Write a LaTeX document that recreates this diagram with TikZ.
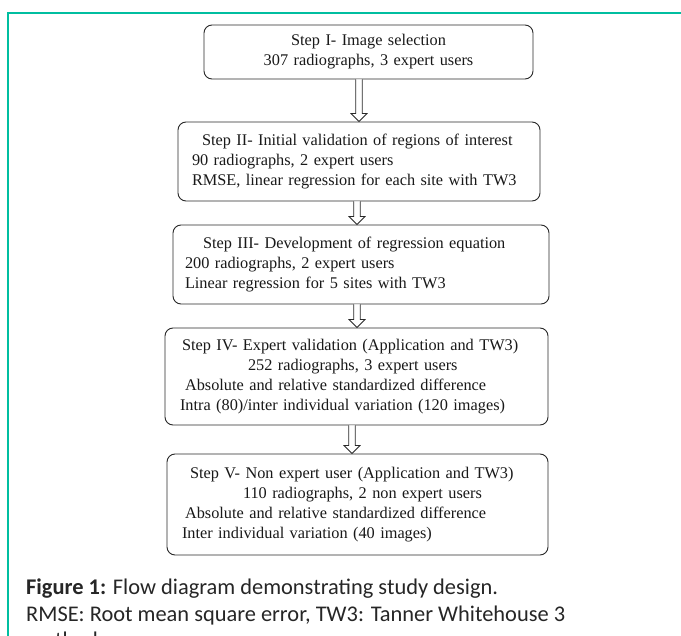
\documentclass[tikz,border=0pt]{standalone}
\usepackage{fontspec}
\setmainfont{Liberation Serif}
\newfontfamily\capfont{Carlito}
\usetikzlibrary{calc}
\definecolor{teal1}{RGB}{0,190,160}
\definecolor{boxline}{RGB}{40,40,40}
\newcommand\hollowarrow[3]{%
  \draw[flowarrow] let \p1=(#2.south), \p2=(#3.north) in
    ({#1pt-3.2pt},\y1) -- ({#1pt-3.2pt},{\y2+8pt}) -- ({#1pt-8pt},{\y2+8pt}) --
    (#1pt,\y2) -- ({#1pt+8pt},{\y2+8pt}) -- ({#1pt+3.2pt},{\y2+8pt}) -- ({#1pt+3.2pt},\y1);}
\begin{document}
\begin{tikzpicture}[x=1pt,y=-1pt,
  stepbox/.style={draw=boxline, line width=0.9pt, rounded corners=8pt,
    inner xsep=0pt, inner ysep=0pt, font=\fontsize{16.3}{20}\selectfont, text=black!90},
  flowarrow/.style={draw=boxline, line width=0.8pt, fill=white, line join=miter}]
\useasboundingbox (0,0) rectangle (681,636);
\clip (0,0) rectangle (681,636);
\fill[white] (0,0) rectangle (681,636);
\draw[teal1, line width=1.6pt] (8,640) -- (8,13) -- (685,13);

\node[stepbox, minimum width=329pt, minimum height=54pt, text width=329pt, align=center]
  (b1) at (368.5,52) {Step I- Image selection\\307 radiographs, 3 expert users};
\node[stepbox, minimum width=362pt, minimum height=79pt, text width=362pt, align=left]
  (b2) at (359,161.5) {\hspace*{24pt}Step II- Initial validation of regions of interest\\
  \hspace*{14pt}90 radiographs, 2 expert users\\
  \hspace*{14pt}RMSE, linear regression for each site with TW3};
\node[stepbox, minimum width=376pt, minimum height=79pt, text width=376pt, align=left]
  (b3) at (361,264.5) {\hspace*{30pt}Step III- Development of regression equation\\
  \hspace*{12pt}200 radiographs, 2 expert users\\
  \hspace*{12pt}Linear regression for 5 sites with TW3};
\node[stepbox, minimum width=383pt, minimum height=97pt, text width=383pt, align=left]
  (b4) at (356.5,376.5) {\hspace*{17pt}Step IV- Expert validation (Application and TW3)\\
  \hspace*{83pt}252 radiographs, 3 expert users\\
  \hspace*{20pt}Absolute and relative standardized difference\\
  \hspace*{15pt}Intra (80)/inter individual variation (120 images)};
\node[stepbox, minimum width=381pt, minimum height=101pt, text width=381pt, align=left]
  (b5) at (357.5,504.5) {\hspace*{23pt}Step V- Non expert user (Application and TW3)\\
  \hspace*{76pt}110 radiographs, 2 non expert users\\
  \hspace*{18pt}Absolute and relative standardized difference\\
  \hspace*{15pt}Inter individual variation (40 images)};

\hollowarrow{359}{b1}{b2}
\hollowarrow{357}{b2}{b3}
\hollowarrow{357}{b3}{b4}
\hollowarrow{352}{b4}{b5}

\node[anchor=base west, align=left, inner sep=0pt,
  font=\capfont\fontsize{22.4}{27}\selectfont, text=black!85]
  (cap) at (26,648) {\textbf{Figure 1:} Flow diagram demonstrating study design.\\
  RMSE: Root mean square error, TW3: Tanner Whitehouse 3\\
  methods};
\end{tikzpicture}
\end{document}
